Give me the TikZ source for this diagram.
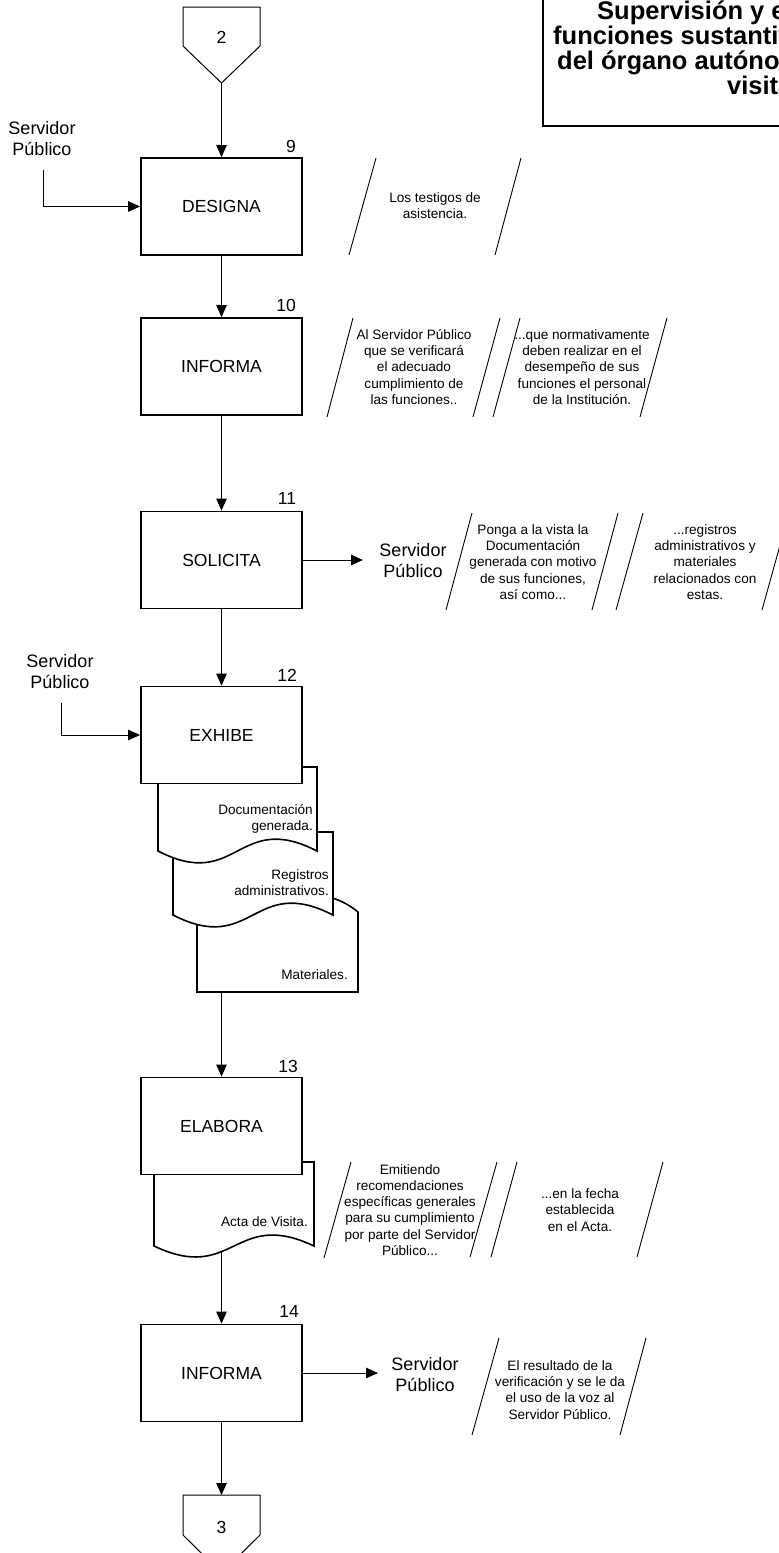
\documentclass[tikz,border=0pt]{standalone}
\usepackage{fontspec}
\setmainfont{Liberation Sans}
\usetikzlibrary{arrows.meta}
\tikzset{
 procbox/.style={draw, line width=1.8pt, fill=white, minimum width=161pt, minimum height=97pt, inner sep=0pt, font=\fontsize{17.5}{20}\selectfont},
 numlbl/.style={font=\fontsize{17.5}{20}\selectfont, inner sep=0pt},
 actor/.style={align=center, font=\fontsize{18}{21}\selectfont, inner sep=0pt},
 note/.style={align=center, font=\fontsize{13.6}{16.2}\selectfont, inner sep=0pt},
 doctext/.style={align=right, anchor=east, font=\fontsize{13.6}{16.2}\selectfont, inner sep=0pt},
 flow/.style={line width=1pt, -{Triangle[length=12pt,width=10.5pt]}},
 slash/.style={line width=0.9pt},
 docshape/.style={draw, line width=1.6pt, fill=white},
 conn/.style={draw, line width=1pt, fill=white},
 titlefont/.style={font=\fontsize{25.5}{25}\selectfont\bfseries, inner sep=0pt, anchor=base west},
}
\begin{document}
\begin{tikzpicture}[x=1pt,y=-1pt]
\useasboundingbox (0,0) rectangle (779,1553);
\clip (0,0) rectangle (779,1553);
\fill[white] (0,0) rectangle (779,1553);

% title box
\draw[line width=2.2pt] (543,-10) rectangle (820,126);
\node[titlefont] (t1) at (597,19.5) {Supervisión y evaluación de las};
\node[titlefont] (t2) at (553,44.5) {funciones sustantivas y adjetivas};
\node[titlefont] (t3) at (557,69.5) {del órgano autónomo mediante};
\node[titlefont] (t4) at (727,94.5) {visitas.};

% connector 2
\draw[conn] (183,7) -- (260,7) -- (260,46) -- (221.5,83) -- (183,46) -- cycle;
\node[numlbl] (c2) at (221.5,37) {2};
\coordinate (c2tip) at (221.5,83);

% documents of step 12
\draw[docshape] (358,912) .. controls (320,880) and (260,895) .. (197,905) -- (197,992) -- (358,992) -- cycle;
\draw[docshape] (173,832) -- (333,832) -- (333,915) .. controls (253,874) and (253,956) .. (173,915) -- cycle;
\draw[docshape] (158,767) -- (317,767) -- (317,851) .. controls (237.5,810) and (237.5,892) .. (158,851) -- cycle;
\node[doctext] (d1) at (313,819) {Documentación\\generada.};
\node[doctext] (d2) at (329,883) {Registros\\administrativos.};
\node[doctext] (d3) at (348,975) {Materiales.};
\coordinate (d3b) at (221.5,992);

% document of step 13
\draw[docshape] (154,1162) -- (314,1162) -- (314,1246) .. controls (234,1208) and (234,1284) .. (154,1246) -- cycle;
\node[doctext] (d4) at (308,1222) {Acta de Visita.};
\coordinate (d4b) at (221.5,1252);

% process boxes
\node[procbox] (b9) at (221.5,206.5) {DESIGNA};
\node[procbox] (b10) at (221.5,366.5) {INFORMA};
\node[procbox] (b11) at (221.5,560) {SOLICITA};
\node[procbox] (b12) at (221.5,735) {EXHIBE};
\node[procbox] (b13) at (221.5,1126) {ELABORA};
\node[procbox] (b14) at (221.5,1373) {INFORMA};

\node[numlbl] (n9l) at (291,146) {9};
\node[numlbl] (n10l) at (286,305) {10};
\node[numlbl] (n11l) at (287,498) {11};
\node[numlbl] (n12l) at (287,675) {12};
\node[numlbl] (n13l) at (288,1066) {13};
\node[numlbl] (n14l) at (289,1311) {14};

% main flow
\draw[flow] (c2tip) -- (b9.north);
\draw[flow] (b9.south) -- (b10.north);
\draw[flow] (b10.south) -- (b11.north);
\draw[flow] (b11.south) -- (b12.north);
\draw[flow] (d3b) -- (b13.north);
\draw[flow] (d4b) -- (b14.north);

% left inputs
\node[actor] (sp9) at (42,139) {Servidor\\Público};
\coordinate (s9) at (43,170);
\draw[flow] (s9) |- (b9.west);
\node[actor] (sp12) at (60,672) {Servidor\\Público};
\coordinate (s12) at (61,703);
\draw[flow] (s12) |- (b12.west);

% annotations 9
\node[note] (n9) at (435,206) {Los testigos de\\asistencia.};
\draw[slash] (376,158) -- (349,255);
\draw[slash] (521,158) -- (495,255);

% annotations 10
\node[note] (n10a) at (414,367) {Al Servidor Público\\que se verificará\\el adecuado\\cumplimiento de\\las funciones..};
\draw[slash] (353,318) -- (327,417);
\draw[slash] (500,318) -- (473,417);
\node[note] (n10b) at (582,367) {...que normativamente\\deben realizar en el\\desempeño de sus\\funciones el personal\\de la Institución.};
\draw[slash] (520,318) -- (493,417);
\draw[slash] (667,318) -- (640,417);

% step 11 output
\coordinate (a11) at (363,560);
\draw[flow] (b11.east) -- (a11);
\node[actor] (sp11) at (413,561) {Servidor\\Público};
\node[note] (n11a) at (533,562) {Ponga a la vista la\\Documentación\\generada con motivo\\de sus funciones,\\así como...};
\draw[slash] (472,513) -- (446,610);
\draw[slash] (618,513) -- (592,610);
\node[note] (n11b) at (705,562) {...registros\\administrativos y\\materiales\\relacionados con\\estas.};
\draw[slash] (643,513) -- (616,610);
\draw[slash] (789,513) -- (762,610);

% annotations 13
\node[note] (n13a) at (410,1210) {Emitiendo\\recomendaciones\\específicas generales\\para su cumplimiento\\por parte del Servidor\\Público...};
\draw[slash] (351,1162) -- (324,1258);
\draw[slash] (497,1162) -- (470,1257);
\node[note] (n13b) at (580,1210) {...en la fecha\\establecida\\en el Acta.};
\draw[slash] (517,1162) -- (491,1257);
\draw[slash] (663,1162) -- (637,1257);

% step 14 output
\coordinate (a14) at (378,1373);
\draw[flow] (b14.east) -- (a14);
\node[actor] (sp14) at (425,1375) {Servidor\\Público};
\node[note] (n14) at (560,1390) {El resultado de la\\verificación y se le da\\el uso de la voz al\\Servidor Público.};
\draw[slash] (499,1338) -- (472,1435);
\draw[slash] (646,1338) -- (620,1435);

% connector 3
\draw[conn] (183,1495) -- (260,1495) -- (260,1535) -- (221.5,1573) -- (183,1535) -- cycle;
\node[numlbl] (c3) at (221.5,1527) {3};
\coordinate (c3top) at (221.5,1495);
\draw[flow] (b14.south) -- (c3top);
\end{tikzpicture}
\end{document}
